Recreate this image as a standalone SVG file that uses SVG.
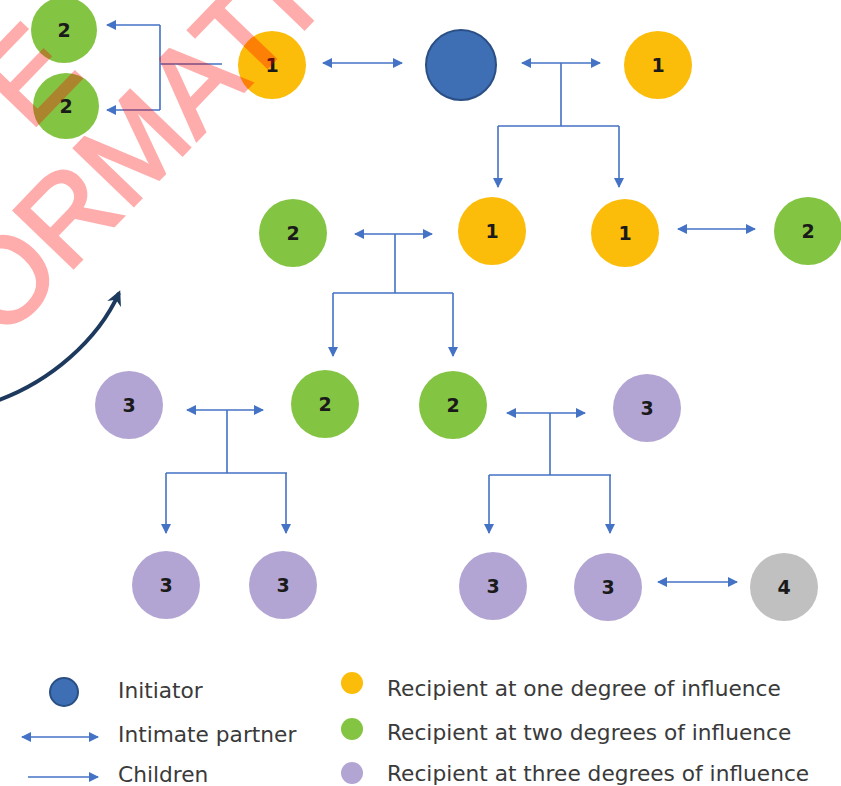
<svg xmlns="http://www.w3.org/2000/svg" width="841" height="786" viewBox="0 0 841 786">
<style>
.n1{fill:#fcbc0a}
.n2{fill:#84c443}
.n3{fill:#b3a5d3}
.n4{fill:#c0c0c0}
.ni{fill:#3e6eb3;stroke:#2a4f85;stroke-width:2}
.d{font-family:"DejaVu Sans",sans-serif;font-weight:bold;font-size:19px;fill:#1a1a1a;text-anchor:middle}
.c{fill:none;stroke:#4472c4;stroke-width:1.6}
.lg{font-family:"DejaVu Sans",sans-serif;font-size:21.7px;fill:#3a3a3a}
</style>
<defs>
<marker id="ah" viewBox="0 0 10 10" refX="9" refY="5" markerWidth="11" markerHeight="10" markerUnits="userSpaceOnUse" orient="auto-start-reverse"><path d="M0,0 L10,5 L0,10 z" fill="#4472c4"/></marker>
<marker id="big" viewBox="0 0 10 10" refX="8" refY="5" markerWidth="17" markerHeight="15" markerUnits="userSpaceOnUse" orient="auto"><path d="M0,0 L10,5 L0,10 L3,5 z" fill="#1d3a5e"/></marker>
</defs>
<rect width="841" height="786" fill="#ffffff"/>

<g id="connectors">
<path class="c" d="M222,64 H160 M160,25 V110"/>
<path class="c" d="M160,25 H107" marker-end="url(#ah)"/>
<path class="c" d="M160,110 H107" marker-end="url(#ah)"/>
<path class="c" d="M323,63 H402" marker-start="url(#ah)" marker-end="url(#ah)"/>
<path class="c" d="M522,63 H600" marker-start="url(#ah)" marker-end="url(#ah)"/>
<path class="c" d="M561,63 V126 M498,126 H619"/>
<path class="c" d="M498,126 V187" marker-end="url(#ah)"/>
<path class="c" d="M619,126 V187" marker-end="url(#ah)"/>
<path class="c" d="M355,234 H432" marker-start="url(#ah)" marker-end="url(#ah)"/>
<path class="c" d="M395,234 V293 M333,293 H453"/>
<path class="c" d="M333,293 V356" marker-end="url(#ah)"/>
<path class="c" d="M453,293 V356" marker-end="url(#ah)"/>
<path class="c" d="M678,229 H755" marker-start="url(#ah)" marker-end="url(#ah)"/>
<path class="c" d="M187,410 H263" marker-start="url(#ah)" marker-end="url(#ah)"/>
<path class="c" d="M227,410 V473 M166,473 H287"/>
<path class="c" d="M166,473 V533" marker-end="url(#ah)"/>
<path class="c" d="M286,473 V533" marker-end="url(#ah)"/>
<path class="c" d="M507,413 H585" marker-start="url(#ah)" marker-end="url(#ah)"/>
<path class="c" d="M550,413 V475 M489,475 H611"/>
<path class="c" d="M489,475 V533" marker-end="url(#ah)"/>
<path class="c" d="M610,475 V533" marker-end="url(#ah)"/>
<path class="c" d="M658,582 H737" marker-start="url(#ah)" marker-end="url(#ah)"/>
<path d="M-4,401 C50,382 98,340 119,293" fill="none" stroke="#1d3a5e" stroke-width="4" marker-end="url(#big)"/>
</g>

<g id="n2a"><circle class="n2" cx="64" cy="30" r="33"/><text class="d" x="64" y="37">2</text></g>
<g id="n2b"><circle class="n2" cx="66" cy="106" r="33"/><text class="d" x="66" y="113">2</text></g>
<g id="n1a"><circle class="n1" cx="272" cy="65" r="34"/><text class="d" x="272" y="72">1</text></g>
<g id="initiator"><circle class="ni" cx="461" cy="65" r="35"/></g>
<g id="n1b"><circle class="n1" cx="658" cy="65" r="34"/><text class="d" x="658" y="72">1</text></g>

<g id="n2c"><circle class="n2" cx="293" cy="233" r="34"/><text class="d" x="293" y="240">2</text></g>
<g id="n1c"><circle class="n1" cx="492" cy="231" r="34"/><text class="d" x="492" y="238">1</text></g>
<g id="n1d"><circle class="n1" cx="625" cy="233" r="34"/><text class="d" x="625" y="240">1</text></g>
<g id="n2d"><circle class="n2" cx="808" cy="231" r="34"/><text class="d" x="808" y="238">2</text></g>

<g id="n3a"><circle class="n3" cx="129" cy="405" r="34"/><text class="d" x="129" y="412">3</text></g>
<g id="n2e"><circle class="n2" cx="325" cy="404" r="34"/><text class="d" x="325" y="411">2</text></g>
<g id="n2f"><circle class="n2" cx="453" cy="405" r="34"/><text class="d" x="453" y="412">2</text></g>
<g id="n3b"><circle class="n3" cx="647" cy="408" r="34"/><text class="d" x="647" y="415">3</text></g>

<g id="n3c"><circle class="n3" cx="166" cy="585" r="34"/><text class="d" x="166" y="592">3</text></g>
<g id="n3d"><circle class="n3" cx="283" cy="585" r="34"/><text class="d" x="283" y="592">3</text></g>
<g id="n3e"><circle class="n3" cx="493" cy="586" r="34"/><text class="d" x="493" y="593">3</text></g>
<g id="n3f"><circle class="n3" cx="608" cy="587" r="34"/><text class="d" x="608" y="594">3</text></g>
<g id="n4"><circle class="n4" cx="784" cy="587" r="34"/><text class="d" x="784" y="594">4</text></g>

<g id="legend">
<circle class="ni" cx="64" cy="692" r="14"/>
<text class="lg" x="118" y="698">Initiator</text>
<path class="c" d="M22,737 H98" marker-start="url(#ah)" marker-end="url(#ah)"/>
<text class="lg" x="118" y="742">Intimate partner</text>
<path class="c" d="M28,777 H98" marker-end="url(#ah)"/>
<text class="lg" x="118" y="782">Children</text>
<circle class="n1" cx="352" cy="683" r="11"/>
<text class="lg" x="387" y="696">Recipient at one degree of influence</text>
<circle class="n2" cx="352" cy="729" r="11"/>
<text class="lg" x="387" y="740">Recipient at two degrees of influence</text>
<circle class="n3" cx="352" cy="773" r="11"/>
<text class="lg" x="387" y="781">Recipient at three degrees of influence</text>
</g>

<g id="watermark" opacity="0.32" fill="#ff0000" stroke="#ff0000" stroke-width="3" font-family="'Liberation Sans',sans-serif" font-size="120" transform="translate(2,342) rotate(-46)">
<text x="0" y="0">ORMATI</text>
<text x="170" y="-126">E</text>
</g>
</svg>
